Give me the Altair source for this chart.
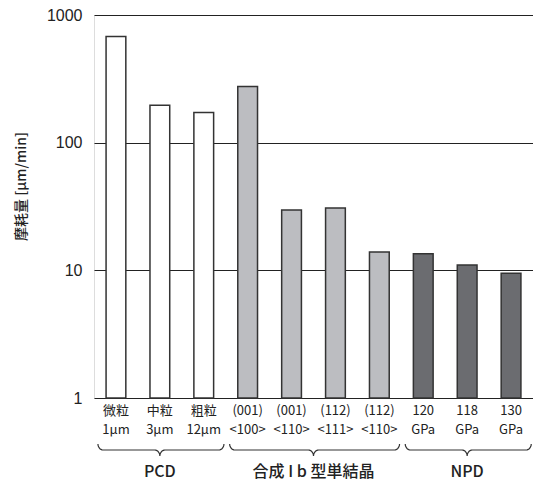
import altair as alt
import pandas as pd
import numpy as np

# ---- data ----
label_line1 = ["微粒", "中粒", "粗粒", "(001)", "(001)", "(112)", "(112)", "120", "118", "130"]
label_line2 = ["1µm", "3µm", "12µm", "<100>", "<110>", "<111>", "<110>", "GPa", "GPa", "GPa"]
groups = ["PCD"] * 3 + ["合成 I b 型単結晶"] * 4 + ["NPD"] * 3
wear = [680, 196, 172, 275, 29.7, 30.8, 13.9, 13.5, 11.0, 9.5]

group_names = ["PCD", "合成 I b 型単結晶", "NPD"]
group_colors = ["#ffffff", "#bcbdc1", "#6b6c70"]
y_ticks = [1, 10, 100, 1000]
y_base = 1

W, H = 439, 383
FONT_JP = "Noto Sans CJK JP"

cats = [f"{a}|{b}" for a, b in zip(label_line1, label_line2)]
df = pd.DataFrame({"cat": cats, "group": groups, "wear": wear, "base": [y_base] * len(cats)})

bars = alt.Chart(df).mark_bar(stroke="#333333", strokeWidth=1.5).encode(
    x=alt.X("cat:N", sort=None,
            scale=alt.Scale(paddingInner=0.55, paddingOuter=0.275),
            axis=alt.Axis(title=None, labelExpr="split(datum.value, '|')",
                          labelAngle=0, labelFont=FONT_JP, labelFontSize=13,
                          labelColor="#222222", labelLineHeight=19,
                          labelBaseline="top", labelPadding=6,
                          ticks=False, domain=False, grid=False)),
    y=alt.Y("wear:Q",
            scale=alt.Scale(type="log", domain=[1, 1000], nice=False),
            axis=alt.Axis(title="摩耗量 [µm/min]", values=y_ticks, format="d",
                          titleFont=FONT_JP, titleFontSize=14, titleFontWeight=500,
                          titleColor="#222222", titlePadding=18, titleY=171,
                          labelFont="Liberation Sans", labelFontSize=16,
                          labelColor="#222222", labelPadding=12,
                          ticks=False, domain=False,
                          grid=True, gridColor="#222222", gridWidth=1.2)),
    y2="base:Q",
    fill=alt.Fill("group:N", scale=alt.Scale(domain=group_names, range=group_colors),
                  legend=None),
)

# ---- braces under the groups (x in band units, y in pixels below plot top) ----
group_spans = [(0, 3), (3, 7), (7, 10)]
top_y, mid_y, tip_y = 429, 435, 441
rx = 0.12
rows = []
for gi, (s, e) in enumerate(group_spans):
    x0, x1, xm = s + 0.09, e - 0.04, (s + e) / 2
    t = np.linspace(0, np.pi / 2, 8)
    pts = []
    pts += [(x0 + rx - rx * np.cos(a), top_y + (mid_y - top_y) * np.sin(a)) for a in t]
    pts += [(xm - rx + rx * np.sin(a), tip_y - (tip_y - mid_y) * np.cos(a)) for a in t]
    pts += [(xm + rx - rx * np.sin(a), tip_y - (tip_y - mid_y) * np.cos(a)) for a in t[::-1]]
    pts += [(x1 - rx + rx * np.cos(a), top_y + (mid_y - top_y) * np.sin(a)) for a in t[::-1]]
    for k, (px, py) in enumerate(pts):
        rows.append({"g": gi, "o": k, "bx": float(px), "by": float(py)})
brace_df = pd.DataFrame(rows)

xs = alt.Scale(domain=[0, 10], nice=False, zero=False)
ys = alt.Scale(domain=[0, H], range=[0, H], nice=False, zero=False)

braces = alt.Chart(brace_df).mark_line(color="#333333", strokeWidth=1.2).encode(
    x=alt.X("bx:Q", scale=xs, axis=None),
    y=alt.Y("by:Q", scale=ys, axis=None),
    detail="g:N",
    order="o:Q",
)

glabel_df = pd.DataFrame({
    "name": group_names,
    "gx": [(s + e) / 2 for s, e in group_spans],
    "gy": [456.5, 456.5, 456.5],
})
glabels = alt.Chart(glabel_df).mark_text(
    font=FONT_JP, fontSize=16, fontWeight=500, color="#222222", baseline="middle"
).encode(
    x=alt.X("gx:Q", scale=xs, axis=None),
    y=alt.Y("gy:Q", scale=ys, axis=None),
    text="name:N",
)

annot = alt.layer(braces, glabels)

chart = alt.layer(bars, annot).resolve_scale(x="independent", y="independent").properties(
    width=W, height=H,
    autosize=alt.AutoSizeParams(type="none"),
    padding={"left": 86, "top": 7, "right": 0, "bottom": 82},
).configure_view(stroke="#222222", strokeWidth=1.5).configure(background="white")

chart.save("out.html", embed_options={"renderer": "svg", "actions": False})
